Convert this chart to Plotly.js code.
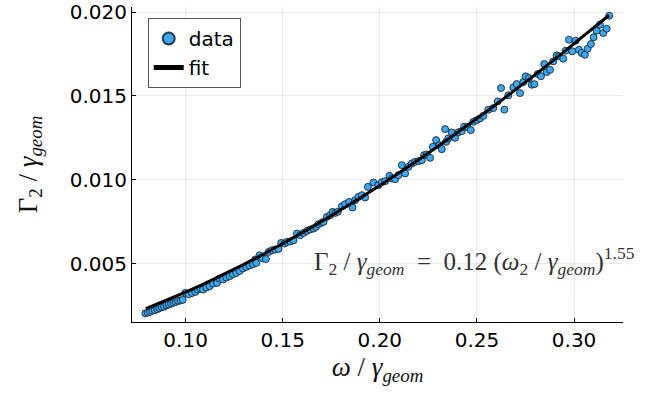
<!DOCTYPE html>
<html>
<head>
<meta charset="utf-8">
<script src="https://cdn.plot.ly/plotly-3.0.1.min.js"></script>
<style>html,body{margin:0;padding:0;background:#fff;}#chart{width:658px;height:394px;}</style>
</head>
<body>
<div id="chart"></div>
<script>
// measured data points (omega/gamma_geom, Gamma2/gamma_geom)
const dataX = [
0.0793,0.0805,0.0817,0.0829,0.0841,0.0853,0.0865,0.0877,0.0889,0.0901,0.0913,0.0925,0.0937,0.0949,0.0961,0.0973,0.0985,
0.09985,0.10154,0.10329,0.10499,0.10617,0.10756,0.10895,0.11065,0.11235,0.11409,0.11615,0.11749,0.11924,0.12094,0.12263,0.12438,0.12608,0.12778,0.12953,0.13122,0.13292,0.13467,
0.13585,0.13637,0.13807,0.13982,0.14136,0.14270,0.14444,0.14614,0.14784,0.14923,0.15093,0.15216,0.15386,0.15556,0.15731,0.15900,0.16070,0.16245,0.16415,0.16584,0.16708,0.16842,0.16981,0.17099,0.17274,0.17444,0.17562,0.17701,0.17840,0.18046,0.18215,0.18421,0.18591,0.18730,0.18899,0.19074,0.19244,0.19383,
0.19671,0.19928,0.20103,0.20273,0.20494,0.20617,0.20787,0.20957,0.21132,0.21302,0.21471,0.21646,0.21816,0.21986,0.22161,0.22279,0.22418,0.22588,0.22727,0.22897,0.23066,0.23189,0.23359,0.23411,0.23529,0.23704,0.23874,0.24044,0.24218,0.24337,0.24507,0.24682,0.24815,0.24990,0.25160,0.25329,
0.25586,0.25843,0.26070,0.26240,0.26410,0.26615,0.26873,0.27047,0.27217,0.27387,0.27510,0.27680,0.27819,0.27953,0.28128,0.28297,0.28467,0.28591,0.28761,0.28930,0.29105,0.29223,0.29444,0.29568,0.29738,0.29907,0.30082,0.30252,0.30391,0.30561,0.30700,0.30870,0.31009,0.31163,0.31333,0.31503,0.31678,0.31811
];
const dataY = [
0.00203,0.00207,0.00212,0.00219,0.00222,0.00227,0.00234,0.00240,0.00243,0.00251,0.00256,0.00261,0.00266,0.00271,0.00277,0.00280,0.00283,
0.003245,0.003167,0.003245,0.003305,0.003448,0.003508,0.003448,0.003567,0.003645,0.003806,0.003842,0.004105,0.004045,0.004164,0.004242,0.004361,0.004439,0.004558,0.004702,0.004797,0.004881,0.004958,
0.005239,0.005036,0.005495,0.005299,0.005270,0.005692,0.005794,0.005836,0.005872,0.006230,0.006194,0.006290,0.006310,0.006391,0.006791,0.006690,0.006827,0.006946,0.007030,0.007090,0.007185,0.007346,0.007424,0.007483,0.007782,0.007883,0.008080,0.008021,0.008090,0.008421,0.008540,0.008677,0.008343,0.008779,0.008976,0.009077,0.008940,0.009573,
0.009836,0.009675,0.009850,0.009913,0.010230,0.010074,0.010032,0.010271,0.010868,0.010373,0.010767,0.010969,0.011065,0.011107,0.011167,0.011465,0.011507,0.011304,0.011961,0.012361,0.012062,0.011823,0.013017,0.012260,0.012463,0.012821,0.012498,0.012830,0.012898,0.013155,0.013140,0.012958,0.013453,0.013555,0.013657,0.013812,
0.014169,0.014271,0.014671,0.015465,0.014180,0.015030,0.015507,0.015704,0.015167,0.015823,0.016164,0.016062,0.015662,0.015700,0.016301,0.016170,0.016898,0.016420,0.016557,0.017059,0.017418,0.017358,0.017215,0.017692,0.018349,0.017656,0.018289,0.017752,0.017555,0.017453,0.017811,0.018092,0.018492,0.018886,0.019244,0.018749,0.019006,0.019782
];
// fitted curve
const fitX = [0.0795,0.09,0.10,0.11,0.12,0.13,0.14,0.15,0.16,0.17,0.18,0.19,0.20,0.21,0.22,0.23,0.24,0.25,0.26,0.27,0.28,0.29,0.30,0.31,0.318];
const fitY = [0.00231,0.00280,0.00330,0.003822,0.004375,0.004952,0.005555,0.006183,0.006833,0.007506,0.008202,0.008918,0.009656,0.010416,0.011193,0.011993,0.012809,0.013647,0.014501,0.015373,0.016267,0.017176,0.018102,0.019046,0.01981];
const xTicks = [0.10,0.15,0.20,0.25,0.30];
const xTickText = ['0.10','0.15','0.20','0.25','0.30'];
const yTicks = [0.005,0.010,0.015,0.020];
const yTickText = ['0.005','0.010','0.015','0.020'];

const tickFont = {family:'DejaVu Sans', size:20, color:'#000'};
const mathFont = {family:'Liberation Serif, DejaVu Serif, serif', size:27, color:'#111'};

const traces = [
  {x:dataX, y:dataY, type:'scatter', mode:'markers', name:'data',
   marker:{size:7, color:'#3AA8F2', line:{color:'rgba(20,30,40,0.85)', width:1}}},
  {x:fitX, y:fitY, type:'scatter', mode:'lines', name:'fit', line:{color:'#000', width:3}}
];

const layout = {
  width:658, height:394,
  margin:{l:132, r:35, t:7, b:72, pad:0},
  paper_bgcolor:'#fff', plot_bgcolor:'#fff',
  showlegend:true,
  legend:{x:0.032, y:0.965, xanchor:'left', yanchor:'top', bgcolor:'#fff', bordercolor:'#555', borderwidth:1,
          font:{family:'DejaVu Sans', size:20, color:'#000'}, itemsizing:'constant', tracegroupgap:0},
  xaxis:{range:[0.0724,0.3252], tickvals:xTicks, ticktext:xTickText, ticks:'inside', ticklen:4, tickcolor:'#000',
         showgrid:true, gridcolor:'rgba(0,0,0,0.08)', gridwidth:1, zeroline:false, automargin:false,
         showline:true, linecolor:'#000', linewidth:1, mirror:false, tickfont:tickFont,
         title:{text:'<i>ω</i> / <i>γ</i><sub><i>geom</i></sub>', font:mathFont, standoff:4}},
  yaxis:{range:[0.001514,0.0203], tickvals:yTicks, ticktext:yTickText, ticks:'inside', ticklen:4, tickcolor:'#000',
         showgrid:true, gridcolor:'rgba(0,0,0,0.08)', gridwidth:1, zeroline:false, automargin:false,
         showline:true, linecolor:'#000', linewidth:1, mirror:false, tickfont:tickFont,
         title:{text:'Γ<sub>2</sub> / <i>γ</i><sub><i>geom</i></sub>', font:mathFont, standoff:24}},
  annotations:[
    {xref:'paper', yref:'paper', x:0.697, y:0.195, xanchor:'center', yanchor:'middle', showarrow:false,
     text:'Γ<sub>2</sub> / <i>γ</i><sub><i>geom</i></sub>  =  0.12 (<i>ω</i><sub>2</sub> / <i>γ</i><sub><i>geom</i></sub>)<sup>1.55</sup>',
     font:{family:'Liberation Serif, DejaVu Serif, serif', size:25, color:'#333'}}
  ]
};

Plotly.newPlot('chart', traces, layout, {staticPlot:true, displayModeBar:false});
</script>
</body>
</html>
